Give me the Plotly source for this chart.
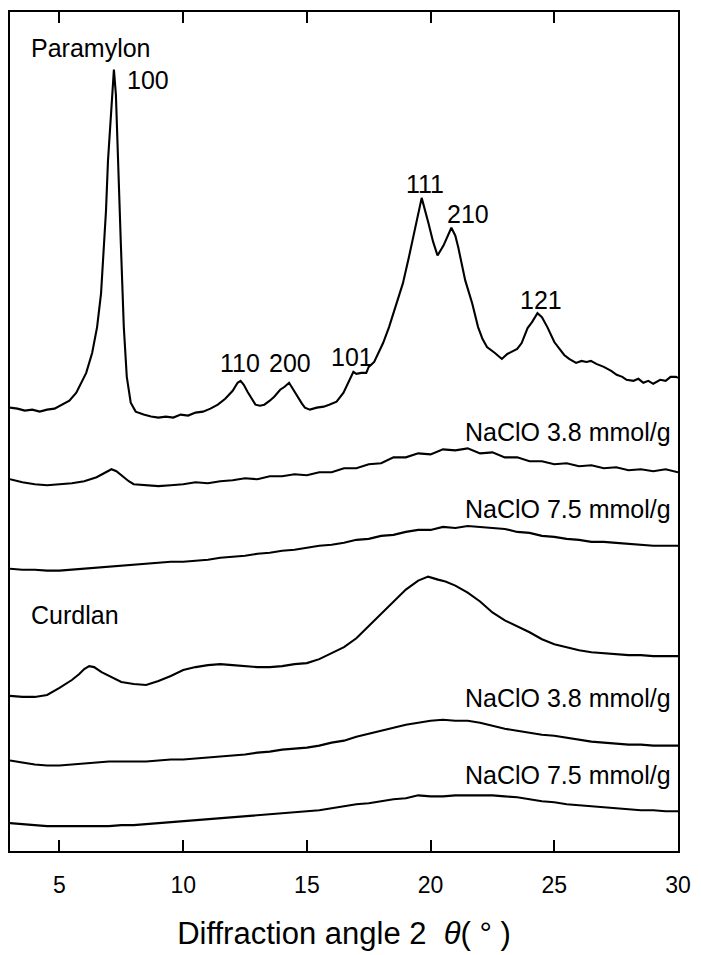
import plotly.graph_objects as go

# ---- data (2-theta in degrees, stacked intensity in a.u.) ----
para_x = [3.0, 3.3, 3.6, 3.9, 4.2, 4.5, 4.8, 5.1, 5.4, 5.68, 6.08, 6.32, 6.52, 6.68, 6.76, 6.88, 6.96,
          7.08, 7.16, 7.2, 7.28, 7.36, 7.48, 7.6, 7.72, 7.88, 8.08, 8.4, 8.7, 9.0, 9.3, 9.6, 9.9, 10.2,
          10.5, 10.8, 11.1, 11.4, 11.7, 12.0, 12.2, 12.32, 12.45, 12.6, 12.8, 12.92, 13.1, 13.28, 13.5,
          13.68, 13.92, 14.1, 14.28, 14.45, 14.6, 14.8, 14.92, 15.12, 15.4, 15.68, 15.9, 16.2, 16.48,
          16.72, 16.88, 17.0, 17.2, 17.4, 17.5, 17.72, 17.9, 18.08, 18.32, 18.5, 18.6, 18.88, 19.12,
          19.4, 19.64, 19.92, 20.1, 20.28, 20.52, 20.84, 21.0, 21.12, 21.4, 21.68, 21.92, 22.1, 22.28,
          22.6, 22.88, 23.1, 23.28, 23.5, 23.68, 23.92, 24.1, 24.32, 24.5, 24.72, 25.0, 25.2, 25.4,
          25.6, 25.88, 26.1, 26.3, 26.48, 26.7, 27.0, 27.3, 27.52, 27.75, 27.92, 28.2, 28.4, 28.6,
          28.8, 29.0, 29.28, 29.5, 29.7, 29.92, 30.0]
para_y = [445, 444, 442, 443, 441, 443, 444, 448, 452, 460, 480, 500, 526, 560, 593, 643, 693,
          743, 780, 785, 760, 693, 610, 526, 476, 450, 441, 438, 436, 435, 436, 435, 438, 437,
          440, 441, 444, 448, 454, 462, 470, 472, 468, 461, 452, 448, 447, 448, 452,
          456, 463, 466, 470, 463, 456, 449, 445, 443, 445, 446, 448, 451, 460,
          473, 481, 479, 480, 480, 486, 491, 500, 510, 526, 540, 550, 570, 596,
          630, 656, 630, 612, 598, 608, 626, 618, 606, 573, 550, 526, 514, 506,
          500, 494, 499, 501, 504, 510, 525, 531, 540, 536, 526, 511, 504, 498,
          494, 490, 492, 491, 492, 489, 486, 482, 478, 476, 473, 472, 474, 470,
          472, 469, 473, 472, 476, 476, 475]

para38_x = [3.0, 3.5, 4.0, 4.5, 5.0, 5.5, 6.0, 6.5, 6.8, 7.1, 7.3, 7.5, 7.8, 8.0, 8.5, 9.0, 9.5,
            10.0, 10.5, 11.0, 11.5, 12.0, 12.5, 13.0, 13.5, 14.0, 14.5, 15.0, 15.5, 16.0, 16.5,
            17.0, 17.5, 18.0, 18.5, 19.0, 19.5, 20.0, 20.5, 21.0, 21.5, 22.0, 22.5, 23.0, 23.5,
            24.0, 24.5, 25.0, 25.5, 26.0, 26.5, 27.0, 27.5, 28.0, 28.5, 29.0, 29.5, 30.0]
para38_y = [373, 370, 368, 367, 368, 369, 371, 375, 379, 383, 381, 377, 371, 368, 367, 366, 367,
            368, 370, 369, 371, 372, 374, 373, 376, 376, 378, 377, 380, 380, 384,
            384, 388, 389, 395, 395, 399, 398, 403, 402, 404, 399, 400, 395, 395,
            391, 391, 388, 389, 386, 387, 384, 385, 382, 383, 381, 383, 380]

para75_x = [3.0, 3.5, 4.0, 4.5, 5.0, 5.5, 6.0, 6.5, 7.0, 7.5, 8.0, 8.5, 9.0, 9.5, 10.0, 10.5,
            11.0, 11.5, 12.0, 12.5, 13.0, 13.5, 14.0, 14.5, 15.0, 15.5, 16.0, 16.5, 17.0, 17.5,
            18.0, 18.5, 19.0, 19.5, 20.0, 20.5, 21.0, 21.5, 22.0, 22.5, 23.0, 23.5, 24.0, 24.5,
            25.0, 25.5, 26.0, 26.5, 27.0, 27.5, 28.0, 28.5, 29.0, 29.5, 30.0]
para75_y = [283, 282, 282, 281, 281, 282, 283, 284, 285, 286, 287, 288, 289, 290, 290, 291,
            292, 294, 295, 296, 298, 299, 301, 302, 304, 306, 307, 309, 312, 313,
            316, 317, 320, 322, 322, 325, 324, 326, 325, 324, 323, 320, 319, 316,
            315, 313, 312, 310, 310, 309, 308, 307, 306, 306, 306]

curd_x = [3.0, 3.5, 4.0, 4.5, 5.0, 5.5, 5.8, 6.0, 6.2, 6.4, 6.7, 7.0, 7.5, 8.0, 8.5, 9.0, 9.5,
          10.0, 10.5, 11.0, 11.5, 12.0, 12.5, 13.0, 13.5, 14.0, 14.5, 15.0, 15.5, 16.0, 16.5,
          17.0, 17.5, 18.0, 18.5, 19.0, 19.5, 19.9, 20.3, 20.6, 21.0, 21.5, 22.0, 22.5, 23.0,
          23.5, 24.0, 24.5, 25.0, 25.5, 26.0, 26.5, 27.0, 27.5, 28.0, 28.5, 29.0, 29.5, 30.0]
curd_y = [155, 154, 154, 156, 163, 171, 177, 182, 185, 184, 179, 175, 169, 167, 166, 170, 175,
          181, 184, 186, 187, 186, 185, 184, 184, 185, 187, 188, 192, 198, 204,
          213, 225, 237, 249, 262, 271, 275, 272, 270, 266, 259, 250, 239, 231,
          225, 219, 212, 207, 204, 201, 199, 198, 197, 196, 196, 195, 195, 195]

curd38_x = [3.0, 3.5, 4.0, 4.5, 5.0, 5.5, 6.0, 6.5, 7.0, 7.5, 8.0, 8.5, 9.0, 9.5, 10.0, 10.5,
            11.0, 11.5, 12.0, 12.5, 13.0, 13.5, 14.0, 14.5, 15.0, 15.5, 16.0, 16.5, 17.0, 17.5,
            18.0, 18.5, 19.0, 19.5, 20.0, 20.5, 21.0, 21.5, 22.0, 22.5, 23.0, 23.5, 24.0, 24.5,
            25.0, 25.5, 26.0, 26.5, 27.0, 27.5, 28.0, 28.5, 29.0, 29.5, 30.0]
curd38_y = [90, 88, 86, 85, 85, 86, 87, 88, 89, 89, 89, 89, 90, 91, 91, 92,
            93, 94, 95, 96, 98, 99, 101, 102, 103, 105, 108, 110, 114, 117,
            120, 123, 126, 128, 130, 131, 130, 130, 128, 125, 122, 120, 118, 116,
            115, 113, 111, 109, 108, 107, 106, 106, 105, 105, 105]

curd75_x = [3.0, 3.5, 4.0, 4.5, 5.0, 5.5, 6.0, 6.5, 7.0, 7.5, 8.0, 8.5, 9.0, 9.5, 10.0, 10.5,
            11.0, 11.5, 12.0, 12.5, 13.0, 13.5, 14.0, 14.5, 15.0, 15.5, 16.0, 16.5, 17.0, 17.5,
            18.0, 18.5, 19.0, 19.5, 20.0, 20.5, 21.0, 21.5, 22.0, 22.5, 23.0, 23.5, 24.0, 24.5,
            25.0, 25.5, 26.0, 26.5, 27.0, 27.5, 28.0, 28.5, 29.0, 29.5, 30.0]
curd75_y = [27, 26, 25, 24, 24, 24, 24, 24, 24, 25, 25, 26, 27, 28, 29, 30,
            31, 32, 33, 34, 35, 36, 37, 38, 39, 40, 42, 44, 46, 47,
            49, 51, 52, 55, 54, 54, 55, 55, 55, 55, 54, 53, 51, 49,
            48, 46, 45, 44, 43, 42, 41, 40, 40, 39, 39]

x_ticks = [5, 10, 15, 20, 25, 30]

series = [(para_x, para_y), (para38_x, para38_y), (para75_x, para75_y),
          (curd_x, curd_y), (curd38_x, curd38_y), (curd75_x, curd75_y)]

FONT = "Arial, Liberation Sans, sans-serif"

fig = go.Figure()
for xs, ys in series:
    fig.add_trace(go.Scatter(x=xs, y=ys, mode="lines",
                             line=dict(color="black", width=2.1),
                             showlegend=False, hoverinfo="skip"))

labels = [
    ("Paramylon", 3.76, 807, "left"),
    ("100", 7.64, 775, "left"),
    ("110", 12.28, 490, "center"),
    ("200", 14.32, 490, "center"),
    ("101", 16.84, 496, "center"),
    ("111", 19.76, 670, "center"),
    ("210", 21.52, 640, "center"),
    ("121", 24.48, 553, "center"),
    ("NaClO 3.8 mmol/g", 29.8, 421, "right"),
    ("NaClO 7.5 mmol/g", 29.8, 343, "right"),
    ("Curdlan", 3.76, 236, "left"),
    ("NaClO 3.8 mmol/g", 29.8, 153, "right"),
    ("NaClO 7.5 mmol/g", 29.8, 75, "right"),
]
for t, ax, ay, anc in labels:
    fig.add_annotation(x=ax, y=ay, xref="x", yref="y", text=t, showarrow=False,
                       xanchor=anc, yanchor="middle",
                       font=dict(family=FONT, size=25, color="black"))

fig.update_layout(
    width=701, height=955,
    margin=dict(l=10, r=16, t=10, b=101),
    paper_bgcolor="white", plot_bgcolor="white",
    font=dict(family=FONT, color="black"),
    xaxis=dict(range=[3, 30], tickvals=x_ticks, ticktext=[str(v) for v in x_ticks],
               ticks="inside", ticklen=11, tickwidth=2, tickcolor="black",
               ticklabelstandoff=12,
               showline=True, linewidth=2, linecolor="black", mirror="ticks",
               showgrid=False, zeroline=False,
               tickfont=dict(family=FONT, size=23, color="black"),
               title=dict(text="Diffraction angle 2&nbsp; <i>θ</i>( °&nbsp;)",
                          font=dict(family=FONT, size=31, color="black"), standoff=26)),
    yaxis=dict(range=[-1, 843], showticklabels=False, ticks="",
               showline=True, linewidth=2, linecolor="black", mirror=True,
               showgrid=False, zeroline=False),
)

fig.write_html("out.html")
